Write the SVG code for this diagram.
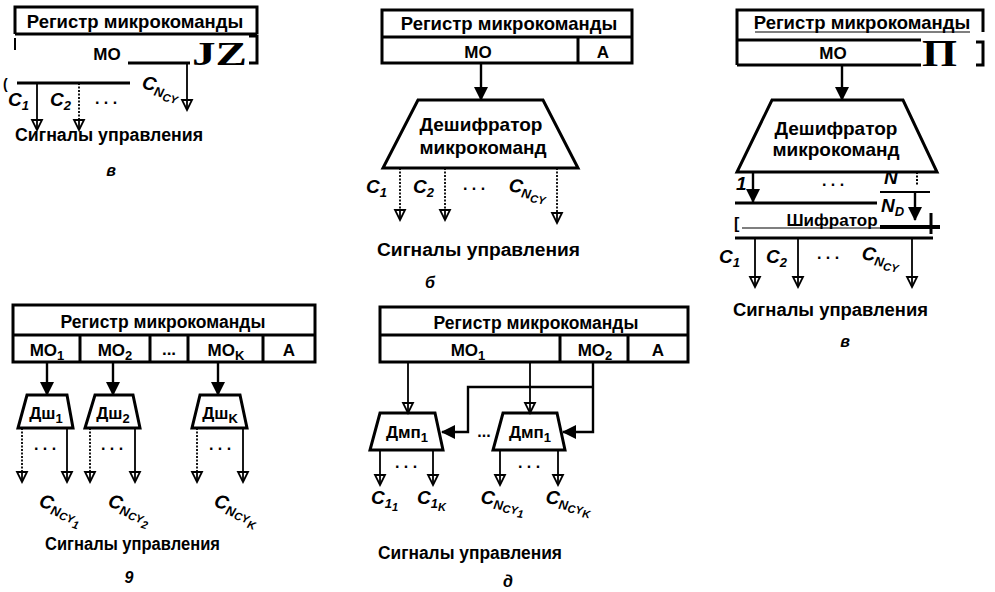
<svg xmlns="http://www.w3.org/2000/svg" width="995" height="592" viewBox="0 0 995 592">
<defs>
<style>
text{font-family:"Liberation Sans",Arial,sans-serif;font-weight:bold;fill:#000}
.ttl{font-size:18.5px;text-anchor:middle}
.ttl2{font-size:17.5px;text-anchor:middle}
.fld{font-size:17px;text-anchor:middle}
.dec{font-size:19px;text-anchor:middle}
.sm{font-size:17px;text-anchor:middle}
.cap{font-size:18px}
.lbl{font-size:19px;font-style:italic}
.sb{font-size:13px}
.ssb{font-size:11px}
.dots{font-size:16px;text-anchor:middle}
.fig{font-size:16px;font-style:italic;text-anchor:middle}
.serif{font-family:"Liberation Serif","Times New Roman",serif}
.box{fill:none;stroke:#000;stroke-width:3}
.ln{fill:none;stroke:#000;stroke-width:2}
.thin{fill:none;stroke:#000;stroke-width:1.2}
.sig{fill:none;stroke:#000;stroke-width:1.8;marker-end:url(#open)}
.bus{fill:none;stroke:#000;stroke-width:2.4;marker-end:url(#fill)}
.dash{stroke-dasharray:2 1.5}
</style>
<marker id="open" viewBox="-12 -7 14 14" refX="0" refY="0" markerWidth="14" markerHeight="14" orient="auto" markerUnits="userSpaceOnUse">
<path d="M0,0 L-10,-5 L-10,5 Z" fill="#fff" stroke="#000" stroke-width="1.8"/>
<path d="M-11,0 H0" stroke="#000" stroke-width="1.8"/>
</marker>
<marker id="fill" viewBox="-16 -8 19 16" refX="-1" refY="0" markerWidth="19" markerHeight="16" orient="auto" markerUnits="userSpaceOnUse">
<path d="M0,0 L-14,-7 L-14,7 Z" fill="#000"/>
</marker>
</defs>
<rect width="995" height="592" fill="#fff"/>

<!-- ===== Panel a ===== -->
<g id="reg-a">
<path class="box" d="M15,34 V7 H257 V34 M15,34 H257"/>
<path class="box" d="M249,36 H257 V63 H249"/>
<path class="ln" d="M15,38 V50"/>
<path class="box" d="M128,63 H190"/>
<text class="ttl" x="135" y="28">Регистр микрокоманды</text>
<text class="fld" x="107" y="60">МО</text>
<text class="serif" x="192" y="65" font-size="34" textLength="55" lengthAdjust="spacingAndGlyphs">JZ</text>
</g>
<g id="conn-a">
<path class="box" d="M17,83 H130"/>
<text x="3" y="89" font-size="14" font-weight="normal">(</text>
<path class="sig" d="M37,83 V130"/>
<path class="sig dash" d="M79,83 V130"/>
<path class="sig" d="M187,63 V110"/>
</g>
<g id="labels-a">
<text class="lbl" x="8" y="106">C<tspan class="sb" dy="4">1</tspan></text>
<text class="lbl" x="50" y="106">C<tspan class="sb" dy="4">2</tspan></text>
<text class="dots" x="106" y="104">. . .</text>
<text class="lbl" x="141" y="88" transform="rotate(14 141 88)">C<tspan class="sb" dy="4">N</tspan><tspan class="ssb" dy="3">CY</tspan></text>
<text class="cap" x="15" y="141" textLength="188" lengthAdjust="spacingAndGlyphs">Сигналы управления</text>
<text class="fig" x="111" y="176">в</text>
</g>

<!-- ===== Panel b ===== -->
<g id="reg-b">
<rect class="box" x="382" y="10" width="250" height="53"/>
<path class="box" d="M382,37 H632 M578,37 V63"/>
<text class="ttl" x="509" y="30">Регистр микрокоманды</text>
<text class="fld" x="478" y="58">МО</text>
<text class="fld" x="603" y="58">А</text>
</g>
<g id="dec-b">
<polygon class="box" points="418,100 543,100 578,168 383,168"/>
<text class="dec" x="481" y="131">Дешифратор</text>
<text class="dec" x="483" y="154">микрокоманд</text>
</g>
<g id="conn-b">
<path class="bus" d="M481,63 V100"/>
<path class="sig dash" d="M400,168 V220"/>
<path class="sig dash" d="M445,168 V220"/>
<path class="sig dash" d="M557,168 V223"/>
</g>
<g id="labels-b">
<text class="lbl" x="366" y="193">C<tspan class="sb" dy="4">1</tspan></text>
<text class="lbl" x="413" y="193">C<tspan class="sb" dy="4">2</tspan></text>
<text class="dots" x="474" y="190">. . .</text>
<text class="lbl" x="508" y="191" transform="rotate(10 508 191)">C<tspan class="sb" dy="4">N</tspan><tspan class="ssb" dy="3">CY</tspan></text>
<text class="cap" x="377" y="256" textLength="203" lengthAdjust="spacingAndGlyphs">Сигналы управления</text>
<text class="fig" x="430" y="288">б</text>
</g>

<!-- ===== Panel v ===== -->
<g id="reg-v">
<path class="box" d="M737,65 V10 H983 V32 M737,40 H921 M737,65 H921"/>
<path class="box" d="M976,42 H983 V65 H976"/>
<path class="thin" d="M755,32 H970"/>
<text class="ttl" x="862" y="29">Регистр микрокоманды</text>
<text class="fld" x="833" y="59">МО</text>
<text class="serif" x="922" y="66" font-size="38" textLength="35" lengthAdjust="spacingAndGlyphs">П</text>
</g>
<g id="dec-v">
<polygon class="box" points="772,100 903,100 937,172 737,172"/>
<text class="dec" x="836" y="135">Дешифратор</text>
<text class="dec" x="836" y="156">микрокоманд</text>
</g>
<g id="enc-v">
<path class="box" d="M735,203 H877"/>
<path class="box" d="M735,238 H933"/>
<path class="thin" d="M742,228 H880"/>
<path d="M880,227 H940" stroke="#000" stroke-width="4"/>
<path class="box" d="M931,213 V234"/>
<text x="734" y="229" font-size="16">[</text>
<text class="fld" x="832" y="226" font-size="18">Шифратор</text>
</g>
<g id="conn-v">
<path class="bus" d="M842,65 V100"/>
<path class="bus" d="M753,172 V202"/>
<path class="ln dash" d="M917,172 V186"/>
<path class="ln" d="M880,192 H930"/>
<path class="bus" d="M915,192 V220"/>
<path class="sig" d="M755,238 V287"/>
<path class="sig" d="M798,238 V287"/>
<path class="sig" d="M912,238 V287"/>
</g>
<g id="labels-v">
<text class="lbl" x="736" y="190" font-size="16">1</text>
<text class="dots" x="833" y="186">. . .</text>
<text class="lbl" x="884" y="184" font-size="11">N</text>
<text class="lbl" x="881" y="212" font-size="17">N<tspan class="sb" dy="4">D</tspan></text>
<text class="lbl" x="719" y="263">C<tspan class="sb" dy="4">1</tspan></text>
<text class="lbl" x="766" y="263">C<tspan class="sb" dy="4">2</tspan></text>
<text class="dots" x="828" y="259">. . .</text>
<text class="lbl" x="861" y="259" transform="rotate(10 861 259)">C<tspan class="sb" dy="4">N</tspan><tspan class="ssb" dy="3">CY</tspan></text>
<text class="cap" x="733" y="316" textLength="195" lengthAdjust="spacingAndGlyphs">Сигналы управления</text>
<text class="fig" x="845" y="347">в</text>
</g>

<!-- ===== Panel g ===== -->
<g id="reg-g">
<rect class="box" x="13" y="305" width="302" height="57"/>
<path class="box" d="M13,335 H315 M80,335 V362 M150,335 V362 M188,335 V362 M263,335 V362"/>
<text class="ttl2" x="163" y="328">Регистр микрокоманды</text>
<text class="fld" x="47" y="356">МО<tspan class="sb" dy="4">1</tspan></text>
<text class="fld" x="115" y="356">МО<tspan class="sb" dy="4">2</tspan></text>
<text class="fld" x="169" y="355">...</text>
<text class="fld" x="226" y="356">МО<tspan class="sb" dy="4">K</tspan></text>
<text class="fld" x="289" y="356">А</text>
</g>
<g id="dsh-1">
<polygon class="box" points="27,395 67,395 73,428 18,428"/>
<text class="sm" x="46" y="419">Дш<tspan class="sb" dy="4">1</tspan></text>
</g>
<g id="dsh-2">
<polygon class="box" points="95,395 133,395 140,428 85,428"/>
<text class="sm" x="113" y="419">Дш<tspan class="sb" dy="4">2</tspan></text>
</g>
<g id="dsh-k">
<polygon class="box" points="200,395 240,395 247,428 192,428"/>
<text class="sm" x="220" y="419">Дш<tspan class="sb" dy="4">K</tspan></text>
</g>
<g id="conn-g">
<path class="bus" d="M47,362 V395"/>
<path class="bus" d="M113,362 V395"/>
<path class="bus" d="M218,362 V395"/>
<path class="sig dash" d="M22,428 V482"/>
<path class="sig" d="M67,428 V482"/>
<path class="sig dash" d="M90,428 V482"/>
<path class="sig" d="M135,428 V482"/>
<path class="sig dash" d="M197,428 V482"/>
<path class="sig" d="M243,428 V482"/>
</g>
<g id="labels-g">
<text class="dots" x="45" y="450">. . .</text>
<text class="dots" x="112" y="450">. . .</text>
<text class="dots" x="220" y="450">. . .</text>
<text class="lbl" x="38" y="506" font-size="21" transform="rotate(18 38 506)">C<tspan class="sb" dy="4">N</tspan><tspan class="ssb" dy="2">CY</tspan><tspan class="ssb" dy="4">1</tspan></text>
<text class="lbl" x="107" y="506" font-size="21" transform="rotate(18 107 506)">C<tspan class="sb" dy="4">N</tspan><tspan class="ssb" dy="2">CY</tspan><tspan class="ssb" dy="4">2</tspan></text>
<text class="lbl" x="213" y="506" font-size="21" transform="rotate(18 213 506)">C<tspan class="sb" dy="4">N</tspan><tspan class="ssb" dy="2">CY</tspan><tspan class="ssb" dy="4">K</tspan></text>
<text class="cap" x="45" y="550" textLength="175" lengthAdjust="spacingAndGlyphs">Сигналы управления</text>
<text class="fig" x="129" y="583">9</text>
</g>

<!-- ===== Panel d ===== -->
<g id="reg-d">
<rect class="box" x="380" y="307" width="308" height="55"/>
<path class="box" d="M380,335 H688 M560,335 V362 M628,335 V362"/>
<text class="ttl2" x="536" y="329">Регистр микрокоманды</text>
<text class="fld" x="468" y="356">МО<tspan class="sb" dy="4">1</tspan></text>
<text class="fld" x="595" y="356">МО<tspan class="sb" dy="4">2</tspan></text>
<text class="fld" x="658" y="356">А</text>
</g>
<g id="dmp-1">
<polygon class="box" points="380,413 435,413 443,450 370,450"/>
<text class="sm" x="407" y="438">Дмп<tspan class="sb" dy="4">1</tspan></text>
</g>
<g id="dmp-2">
<polygon class="box" points="503,413 557,413 565,450 493,450"/>
<text class="sm" x="530" y="438">Дмп<tspan class="sb" dy="4">1</tspan></text>
</g>
<g id="conn-d">
<path class="sig" d="M408,362 V413"/>
<path class="sig" d="M530,362 V413"/>
<path class="bus" d="M593,362 V432 H563"/>
<path class="bus" d="M593,387 H468 V432 H442"/>
<path class="sig" d="M380,450 V485"/>
<path class="sig" d="M433,450 V485"/>
<path class="sig" d="M500,450 V485"/>
<path class="sig" d="M558,450 V485"/>
</g>
<g id="labels-d">
<text class="dots" x="484" y="437">...</text>
<text class="dots" x="406" y="468">. . .</text>
<text class="dots" x="529" y="468">. . .</text>
<text class="lbl" x="371" y="504">C<tspan class="sb" dy="4">1</tspan><tspan class="ssb" dy="3">1</tspan></text>
<text class="lbl" x="417" y="504">C<tspan class="sb" dy="4">1</tspan><tspan class="ssb" dy="3">K</tspan></text>
<text class="lbl" x="480" y="503" transform="rotate(8 480 503)">C<tspan class="sb" dy="4">N</tspan><tspan class="ssb" dy="2">CY</tspan><tspan class="ssb" dy="3">1</tspan></text>
<text class="lbl" x="545" y="503" transform="rotate(8 545 503)">C<tspan class="sb" dy="4">N</tspan><tspan class="ssb" dy="2">CY</tspan><tspan class="ssb" dy="3">K</tspan></text>
<text class="cap" x="378" y="559" textLength="184" lengthAdjust="spacingAndGlyphs">Сигналы управления</text>
<text class="fig" x="508" y="587">д</text>
</g>
</svg>
